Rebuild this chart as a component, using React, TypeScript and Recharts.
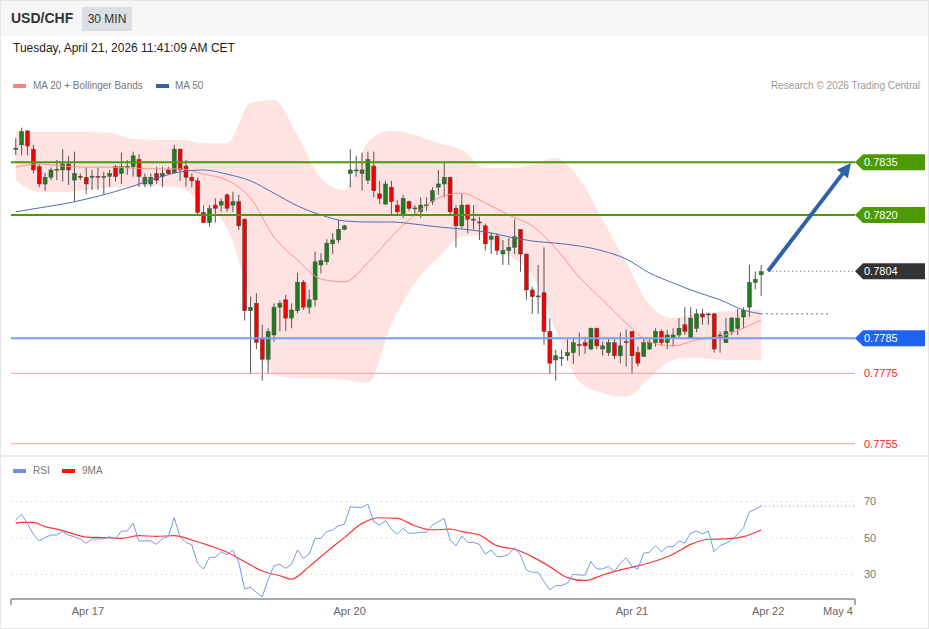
import React from "react";
import { ComposedChart, LineChart, Line, Area, Bar, XAxis, YAxis, ReferenceLine } from "recharts";

// ---------- DATA ----------
const opens = [
  0.78386,0.78399,0.78439,0.78387,0.78337,0.78288,0.78307,0.78328,0.78328,0.78345,
  0.78299,0.78310,0.78307,0.78308,0.78310,0.78308,0.78310,0.78337,0.78318,0.78337,
  0.78337,0.78358,0.78288,0.78288,0.78318,0.78309,0.78328,0.78320,0.78387,0.78339,
  0.78307,0.78297,0.78207,0.78178,0.78228,0.78228,0.78257,0.78228,0.78238,0.78188,
  0.77928,0.77949,0.77850,0.77790,0.77859,0.77938,0.77959,0.77907,0.77928,0.78009,
  0.77938,0.77959,0.78058,0.78067,0.78118,0.78129,0.78159,0.78318,0.78326,0.78318,
  0.78299,0.78339,0.78260,0.78231,0.78279,0.78228,0.78200,0.78238,0.78219,0.78209,
  0.78228,0.78238,0.78279,0.78288,0.78307,0.78219,0.78169,0.78228,0.78188,0.78180,
  0.78169,0.78131,0.78140,0.78089,0.78099,0.78108,0.78159,0.78089,0.77987,0.77970,
  0.77979,0.77869,0.77788,0.77793,0.77800,0.77809,0.77832,0.77837,0.77819,0.77878,
  0.77819,0.77809,0.77837,0.77800,0.77840,0.77869,0.77809,0.77798,0.77819,0.77837,
  0.77869,0.77837,0.77850,0.77859,0.77888,0.77850,0.77878,0.77919,0.77919,0.77919,
  0.77850,0.77837,0.77869,0.77878,0.77910,0.77938,0.78008,0.78030,
];
const highs = [
  0.78418,0.78448,0.78440,0.78399,0.78345,0.78320,0.78335,0.78356,0.78387,0.78368,
  0.78380,0.78318,0.78335,0.78328,0.78335,0.78323,0.78328,0.78342,0.78377,0.78356,
  0.78380,0.78373,0.78318,0.78318,0.78337,0.78337,0.78337,0.78399,0.78389,0.78356,
  0.78318,0.78307,0.78228,0.78228,0.78247,0.78247,0.78262,0.78266,0.78257,0.78190,
  0.77968,0.77978,0.77888,0.77878,0.77949,0.77957,0.77973,0.77949,0.78036,0.78015,
  0.77987,0.78096,0.78091,0.78131,0.78148,0.78186,0.78172,0.78387,0.78368,0.78377,
  0.78380,0.78380,0.78297,0.78297,0.78297,0.78243,0.78257,0.78241,0.78228,0.78250,
  0.78250,0.78279,0.78328,0.78349,0.78309,0.78228,0.78260,0.78230,0.78228,0.78195,
  0.78176,0.78150,0.78148,0.78129,0.78134,0.78188,0.78160,0.78090,0.77996,0.78058,
  0.78108,0.77907,0.77817,0.77817,0.77847,0.77853,0.77866,0.77854,0.77880,0.77880,
  0.77840,0.77847,0.77847,0.77866,0.77875,0.77870,0.77826,0.77847,0.77847,0.77878,
  0.77875,0.77873,0.77878,0.77907,0.77938,0.77938,0.77933,0.77933,0.77922,0.77922,
  0.77869,0.77907,0.77910,0.77933,0.77938,0.78058,0.78039,0.78058,
];
const lows = [
  0.78370,0.78370,0.78370,0.78318,0.78279,0.78269,0.78299,0.78299,0.78295,0.78285,
  0.78238,0.78299,0.78260,0.78271,0.78271,0.78257,0.78280,0.78295,0.78288,0.78314,
  0.78309,0.78280,0.78279,0.78280,0.78288,0.78279,0.78314,0.78318,0.78297,0.78280,
  0.78279,0.78200,0.78176,0.78167,0.78178,0.78209,0.78209,0.78209,0.78157,0.77900,
  0.77748,0.77819,0.77729,0.77750,0.77840,0.77869,0.77871,0.77878,0.77921,0.77930,
  0.77919,0.77940,0.78034,0.78058,0.78089,0.78120,0.78157,0.78279,0.78309,0.78269,
  0.78288,0.78250,0.78231,0.78228,0.78203,0.78203,0.78191,0.78212,0.78203,0.78191,
  0.78212,0.78228,0.78257,0.78250,0.78203,0.78108,0.78162,0.78148,0.78159,0.78129,
  0.78099,0.78089,0.78086,0.78058,0.78058,0.78089,0.78039,0.77959,0.77919,0.77919,
  0.77831,0.77748,0.77729,0.77771,0.77786,0.77777,0.77800,0.77805,0.77817,0.77819,
  0.77800,0.77800,0.77790,0.77779,0.77769,0.77748,0.77769,0.77797,0.77817,0.77826,
  0.77828,0.77819,0.77826,0.77850,0.77859,0.77847,0.77866,0.77888,0.77888,0.77809,
  0.77809,0.77837,0.77859,0.77859,0.77878,0.77910,0.77989,0.77970,
];
const closes = [
  0.78390,0.78437,0.78396,0.78328,0.78288,0.78307,0.78328,0.78330,0.78345,0.78328,
  0.78318,0.78308,0.78288,0.78310,0.78308,0.78310,0.78318,0.78309,0.78337,0.78338,
  0.78368,0.78309,0.78307,0.78307,0.78299,0.78318,0.78318,0.78387,0.78328,0.78307,
  0.78297,0.78207,0.78178,0.78218,0.78219,0.78238,0.78219,0.78238,0.78169,0.77928,
  0.77938,0.77838,0.77790,0.77869,0.77938,0.77949,0.77907,0.77930,0.78009,0.77938,
  0.77959,0.78067,0.78070,0.78120,0.78129,0.78159,0.78169,0.78328,0.78328,0.78328,
  0.78358,0.78269,0.78247,0.78288,0.78238,0.78209,0.78247,0.78219,0.78220,0.78228,
  0.78229,0.78269,0.78288,0.78307,0.78209,0.78169,0.78228,0.78188,0.78187,0.78178,
  0.78118,0.78140,0.78099,0.78099,0.78108,0.78138,0.78089,0.77987,0.77968,0.77968,
  0.77869,0.77779,0.77800,0.77795,0.77809,0.77837,0.77830,0.77828,0.77878,0.77828,
  0.77828,0.77837,0.77800,0.77828,0.77838,0.77800,0.77779,0.77837,0.77837,0.77869,
  0.77837,0.77859,0.77859,0.77878,0.77869,0.77907,0.77919,0.77910,0.77918,0.77819,
  0.77859,0.77869,0.77907,0.77907,0.77929,0.78008,0.78017,0.78039,
];

// indicator readings (sampled at these candle indexes)
const indIdx = [0,4,8,12,16,20,24,28,32,36,40,44,48,52,56,60,64,68,72,76,80,84,88,92,96,100,104,108,112,116,120,124,127];
const bandUpper = [0.78436,0.78436,0.78436,0.78436,0.78433,0.78416,0.78413,0.78413,0.78404,0.78404,0.78518,0.78527,0.78427,0.78305,0.78271,0.78407,0.78439,0.78427,0.78404,0.78385,0.78333,0.78333,0.78342,0.78362,0.78305,0.78186,0.78067,0.77944,0.77907,0.77919,0.77925,0.77930,0.77930];
const bandLower = [0.78299,0.78265,0.78265,0.78271,0.78277,0.78280,0.78282,0.78277,0.78228,0.78163,0.77959,0.77746,0.77737,0.77737,0.77731,0.77723,0.77888,0.78007,0.78078,0.78138,0.78143,0.78086,0.78030,0.77873,0.77726,0.77694,0.77683,0.77737,0.77788,0.77794,0.77788,0.77788,0.77788];
const ma20 = [0.78336,0.78345,0.78339,0.78336,0.78336,0.78333,0.78331,0.78331,0.78316,0.78299,0.78248,0.78138,0.78072,0.78018,0.78010,0.78064,0.78138,0.78200,0.78248,0.78262,0.78234,0.78200,0.78169,0.78106,0.78024,0.77959,0.77893,0.77839,0.77828,0.77845,0.77854,0.77879,0.77902];
const ma50 = [0.78209,0.78220,0.78231,0.78245,0.78262,0.78282,0.78305,0.78322,0.78328,0.78316,0.78297,0.78262,0.78226,0.78200,0.78183,0.78180,0.78180,0.78174,0.78166,0.78160,0.78152,0.78138,0.78126,0.78120,0.78112,0.78098,0.78075,0.78035,0.78007,0.77981,0.77959,0.77930,0.77919];

const rsi = [
  59.9,63.0,58.0,52.0,48.4,50.2,51.6,51.6,53.5,51.6,
  50.7,49.5,47.1,49.5,49.5,49.5,50.7,49.5,53.8,53.8,
  58.0,48.4,48.4,48.4,46.5,49.8,50.7,61.1,50.7,47.6,
  46.2,36.1,33.0,39.4,39.4,42.5,40.7,43.4,36.7,22.1,
  23.0,20.2,17.8,27.0,34.8,35.6,33.4,35.6,43.4,38.9,
  41.1,49.8,49.8,53.5,54.4,56.7,57.5,67.2,66.8,66.8,
  68.5,58.9,57.1,59.5,54.9,52.0,55.3,52.6,52.6,53.1,
  53.1,57.1,58.9,60.8,48.9,45.8,51.1,47.6,47.6,46.5,
  41.1,43.4,39.8,39.8,41.1,44.7,40.7,32.5,31.2,31.2,
  26.1,21.5,23.9,23.9,25.2,30.1,29.7,29.7,37.0,33.0,
  33.0,34.5,31.6,36.1,39.2,34.3,33.0,41.6,42.2,45.8,
  42.5,45.2,45.2,48.4,47.1,52.6,53.8,52.2,53.8,42.5,
  45.8,47.1,48.9,52.2,55.6,64.4,65.7,67.5,
];
const ma9Idx = [0,1,3,5,7,9,12,15,18,21,24,27,30,33,36,39,42,45,47,50,53,56,59,62,65,68,71,74,76,79,82,85,88,91,94,97,100,103,106,109,112,115,118,121,124,127];
const ma9 = [58.0,58.6,58.6,56.2,54.9,53.1,50.5,50.2,49.8,51.3,50.9,51.3,48.9,45.8,42.2,37.0,31.9,29.3,27.5,34.3,42.5,50.2,58.0,61.1,60.8,56.7,54.4,54.9,53.5,51.6,45.8,43.8,39.8,34.3,28.3,26.6,29.7,32.5,34.7,37.4,41.1,46.5,49.3,49.5,50.7,54.4];

const levelValues = [0.7835, 0.782, 0.7804, 0.7785, 0.7775, 0.7755];
const levelLabels = ["0.7835", "0.7820", "0.7804", "0.7785", "0.7775", "0.7755"];
const rsiLevels = [70, 50, 30];
const dateTickPos = [12.3, 56.9, 105, 128.2, 140.1];
const dateTickLabels = ["Apr 17", "Apr 20", "Apr 21", "Apr 22", "May 4"];
const arrowStart = { i: 128.2, p: 0.78041 };
const arrowEnd = { i: 142.3, p: 0.78348 };
const ma50Ext = { from: 127, to: 138.4 };
const priceExt = { from: 128.2, to: 143 };

// ---------- TABLES ----------
const candleData = opens.map((o, i) => ({ i, open: o, high: highs[i], low: lows[i], close: closes[i] }));
const bandData = indIdx.map((i, k) => ({ i, band: [bandLower[k], bandUpper[k]] }));
const ma20Data = indIdx.map((i, k) => ({ i, v: ma20[k] }));
const ma50Data = indIdx.map((i, k) => ({ i, v: ma50[k] }));
const rsiData = rsi.map((v, i) => ({ i, v }));
const ma9Data = ma9Idx.map((i, k) => ({ i, v: ma9[k] }));

const FONT = "'Liberation Sans', Arial, Helvetica, sans-serif";
const X_DOMAIN: [number, number] = [-0.8, 143];

const LEVEL_STYLES = [
  { line: "#4c9a00", width: 2, dash: undefined, bg: "#4c9a00", fg: "#ffffff" },
  { line: "#4c9a00", width: 2, dash: undefined, bg: "#4c9a00", fg: "#ffffff" },
  { line: "#666666", width: 1, dash: "1 3", bg: "#333333", fg: "#ffffff" },
  { line: "#78a0f2", width: 2, dash: undefined, bg: "#1f63f0", fg: "#ffffff" },
  { line: "#ff9c9c", width: 1, dash: undefined, bg: null, fg: "#ff1a1a" },
  { line: "#ff9c9c", width: 1, dash: undefined, bg: null, fg: "#ff1a1a" },
];

const Candle = (props: any) => {
  const { x, y, width, height, payload } = props;
  if (!payload || !isFinite(y) || !isFinite(height)) return null;
  const { open, close, high, low } = payload;
  const h = Math.abs(height);
  const top = Math.min(y, y + height);
  const ratio = h / (high - low);
  const cx = x + width / 2;
  const yO = top + (high - open) * ratio;
  const yC = top + (high - close) * ratio;
  const bTop = Math.min(yO, yC);
  const bH = Math.max(Math.abs(yO - yC), 1);
  const up = close >= open;
  return (
    <g>
      <line x1={cx} x2={cx} y1={top} y2={top + h} stroke="#555" strokeWidth={1} />
      <rect x={cx - width / 2} y={bTop} width={width} height={bH} fill={up ? "#1f7d1f" : "#f40000"} stroke="#4a4a4a" strokeWidth={0.5} />
    </g>
  );
};

const PriceTag = (props: any) => {
  const { viewBox, text, bg, fg } = props;
  if (!viewBox) return null;
  const r = viewBox.x + viewBox.width;
  const cy = viewBox.y;
  return (
    <g>
      {bg ? (
        <polygon
          points={`${r},${cy} ${r + 8},${cy - 8} ${r + 70},${cy - 8} ${r + 70},${cy + 8} ${r + 8},${cy + 8}`}
          fill={bg}
        />
      ) : null}
      <text x={r + 9} y={cy + 4} fill={fg} fontSize={11} fontFamily={FONT}>
        {text}
      </text>
    </g>
  );
};

const RsiTag = (props: any) => {
  const { viewBox, text } = props;
  if (!viewBox) return null;
  const r = viewBox.x + viewBox.width;
  return (
    <text x={r + 9} y={viewBox.y + 4} fill="#777" fontSize={11} fontFamily={FONT}>
      {text}
    </text>
  );
};

const ArrowShape = (props: any) => {
  const { x1, y1, x2, y2 } = props;
  const X1 = Number(x1), Y1 = Number(y1), X2 = Number(x2), Y2 = Number(y2);
  if (![X1, Y1, X2, Y2].every(isFinite)) return null;
  const dx = X2 - X1, dy = Y2 - Y1;
  const len = Math.hypot(dx, dy) || 1;
  const ux = dx / len, uy = dy / len;
  const hl = 14, hw = 7;
  const bx = X2 - ux * hl, by = Y2 - uy * hl;
  const px = -uy, py = ux;
  return (
    <g>
      <line x1={X1} y1={Y1} x2={bx + ux * 2} y2={by + uy * 2} stroke="#2f63a9" strokeWidth={4} />
      <polygon points={`${X2},${Y2} ${bx + px * hw},${by + py * hw} ${bx - px * hw},${by - py * hw}`} fill="#2f63a9" />
    </g>
  );
};

const Swatch = ({ color, left, top }: { color: string; left: number; top: number }) => (
  <div style={{ position: "absolute", left, top, width: 13, height: 4, background: color }} />
);

const smallText: React.CSSProperties = { position: "absolute", fontSize: 10, color: "#777", lineHeight: "12px", whiteSpace: "nowrap" };

export default function App() {
  return (
    <div style={{ position: "absolute", left: 0, top: 0, width: 929, height: 629, background: "#fff", overflow: "hidden", fontFamily: FONT }}>
      {/* header */}
      <div style={{ position: "absolute", left: 0, top: 0, width: 929, height: 36, background: "#f6f6f7" }} />
      <div style={{ position: "absolute", left: 11, top: 10, fontSize: 14, fontWeight: 700, color: "#333", lineHeight: "17px" }}>USD/CHF</div>
      <div style={{ position: "absolute", left: 82, top: 7, width: 50, height: 24, background: "#dcdfe4", color: "#333", fontSize: 12, lineHeight: "24px", textAlign: "center" }}>30 MIN</div>
      <div style={{ position: "absolute", left: 13, top: 41, fontSize: 12, color: "#222", lineHeight: "14px", whiteSpace: "nowrap" }}>
        Tuesday, April 21, 2026 11:41:09 AM CET
      </div>
      <Swatch color="#ff8282" left={13} top={84} />
      <div style={{ ...smallText, left: 33, top: 80 }}>MA 20 + Bollinger Bands</div>
      <Swatch color="#3462a2" left={156} top={84} />
      <div style={{ ...smallText, left: 175, top: 80 }}>MA 50</div>
      <div style={{ ...smallText, right: 9, top: 80, color: "#999" }}>Research © 2026 Trading Central</div>

      {/* main chart */}
      <div style={{ position: "absolute", left: 0, top: 0 }}>
        <ComposedChart width={929} height={460} data={candleData} margin={{ top: 95.3, right: 74, bottom: 5.7, left: 11 }}>
          <XAxis type="number" dataKey="i" domain={X_DOMAIN} allowDataOverflow hide />
          <YAxis type="number" domain={[0.7752, 0.7854]} allowDataOverflow hide />
          <Area data={bandData} dataKey="band" type="monotone" stroke="none" fill="#ffe3e3" fillOpacity={1} isAnimationActive={false} />
          <Line data={ma20Data} dataKey="v" type="monotone" stroke="#ff8f8f" strokeWidth={1} dot={false} activeDot={false} isAnimationActive={false} />
          <Line data={ma50Data} dataKey="v" type="monotone" stroke="#4d6fb2" strokeWidth={1} dot={false} activeDot={false} isAnimationActive={false} />
          {levelValues.map((lv, k) => {
            const s = LEVEL_STYLES[k];
            if (k === 2) {
              return (
                <ReferenceLine
                  key={k}
                  segment={[{ x: priceExt.from, y: lv }, { x: priceExt.to, y: lv }]}
                  stroke={s.line}
                  strokeWidth={s.width}
                  strokeDasharray={s.dash}
                  ifOverflow="visible"
                  label={<PriceTag text={levelLabels[k]} bg={s.bg} fg={s.fg} />}
                />
              );
            }
            return (
              <ReferenceLine
                key={k}
                y={lv}
                stroke={s.line}
                strokeWidth={s.width}
                ifOverflow="visible"
                label={<PriceTag text={levelLabels[k]} bg={s.bg} fg={s.fg} />}
              />
            );
          })}
          <ReferenceLine
            segment={[{ x: ma50Ext.from, y: ma50[ma50.length - 1] }, { x: ma50Ext.to, y: ma50[ma50.length - 1] }]}
            stroke="#4d6fb2"
            strokeWidth={1}
            strokeDasharray="2 3"
            ifOverflow="visible"
          />
          <Bar dataKey={(d: any) => [d.low, d.high]} barSize={4} shape={<Candle />} isAnimationActive={false} />
          <ReferenceLine
            segment={[{ x: arrowStart.i, y: arrowStart.p }, { x: arrowEnd.i, y: arrowEnd.p }]}
            ifOverflow="visible"
            stroke="#2f63a9"
            shape={(p: any) => <ArrowShape {...p} />}
          />
        </ComposedChart>
      </div>

      {/* panel separator */}
      <div style={{ position: "absolute", left: 0, top: 455, width: 929, height: 2, background: "#ececec" }} />

      {/* RSI legend */}
      <Swatch color="#6b8fe6" left={13} top={469} />
      <div style={{ ...smallText, left: 33, top: 465 }}>RSI</div>
      <Swatch color="#ff1010" left={62} top={469} />
      <div style={{ ...smallText, left: 82, top: 465 }}>9MA</div>

      {/* RSI chart */}
      <div style={{ position: "absolute", left: 0, top: 460 }}>
        <LineChart width={929} height={169} margin={{ top: 23.25, right: 74, bottom: 0, left: 11 }}>
          <XAxis
            type="number"
            dataKey="i"
            domain={X_DOMAIN}
            allowDataOverflow
            ticks={dateTickPos}
            interval={0}
            height={29.9}
            tickLine={false}
            axisLine={{ stroke: "#aaaaaa", strokeWidth: 2 }}
            tick={{ fill: "#666", fontSize: 11, fontFamily: FONT }}
            tickFormatter={(v: number) => {
              const k = dateTickPos.findIndex((p) => Math.abs(p - v) < 1e-6);
              return k >= 0 ? dateTickLabels[k] : "";
            }}
          />
          <YAxis type="number" domain={[16.5, 80]} allowDataOverflow hide />
          {rsiLevels.map((l) => (
            <ReferenceLine key={l} y={l} stroke="#c8c8c8" strokeDasharray="1 4" ifOverflow="visible" label={<RsiTag text={String(l)} />} />
          ))}
          <ReferenceLine segment={[{ x: X_DOMAIN[0], y: 16.5 }, { x: X_DOMAIN[0], y: 13.2 }]} stroke="#aaaaaa" strokeWidth={2} ifOverflow="visible" />
          <ReferenceLine segment={[{ x: X_DOMAIN[1], y: 16.5 }, { x: X_DOMAIN[1], y: 13.2 }]} stroke="#aaaaaa" strokeWidth={2} ifOverflow="visible" />
          <ReferenceLine
            segment={[{ x: rsiData.length - 1, y: rsi[rsi.length - 1] }, { x: X_DOMAIN[1], y: rsi[rsi.length - 1] }]}
            stroke="#7597ec"
            strokeDasharray="1 3"
            ifOverflow="visible"
          />
          <Line data={ma9Data} dataKey="v" type="monotone" stroke="#ff3535" strokeWidth={1.2} dot={false} activeDot={false} isAnimationActive={false} />
          <Line data={rsiData} dataKey="v" type="linear" stroke="#7597ec" strokeWidth={1} dot={false} activeDot={false} isAnimationActive={false} />
        </LineChart>
      </div>

      {/* outer border */}
      <div style={{ position: "absolute", left: 0, top: 0, width: 929, height: 629, boxSizing: "border-box", border: "1px solid #e6e6e6", pointerEvents: "none" }} />
    </div>
  );
}
